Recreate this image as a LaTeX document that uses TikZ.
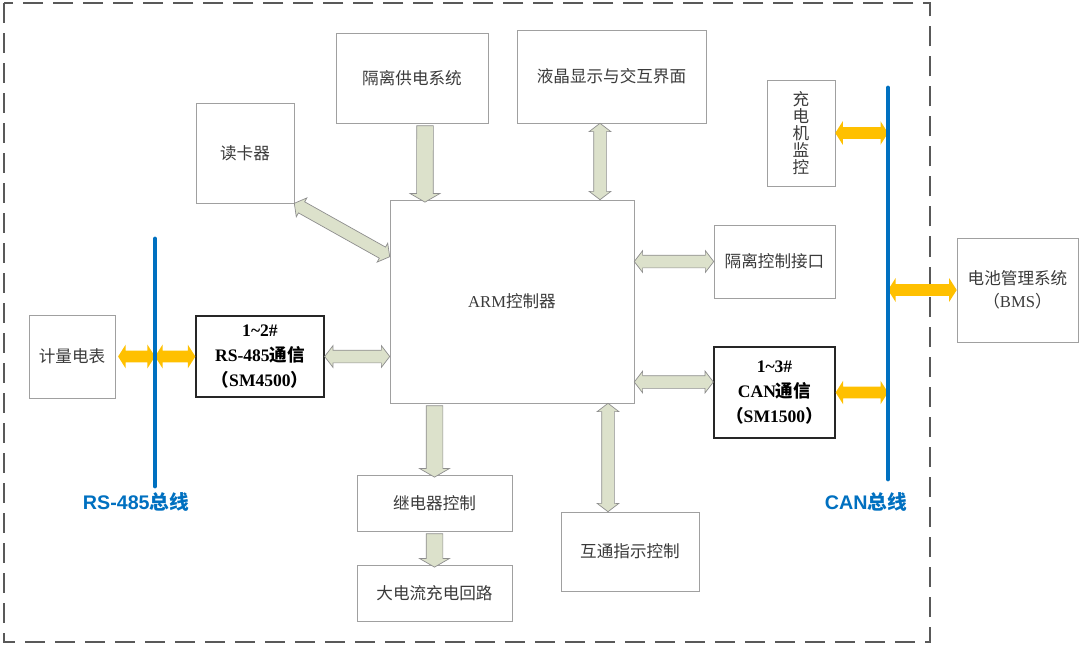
\documentclass[tikz,border=0pt]{standalone}
\usepackage{fontspec}
\setmainfont{Liberation Serif}
\newfontfamily\cjk{Noto Sans CJK SC}
\newfontfamily\lsans{Liberation Sans}
\usetikzlibrary{shapes.arrows,calc}

\definecolor{busblue}{HTML}{0070C0}
\definecolor{linkfill}{HTML}{DCE1CB}
\definecolor{linkline}{HTML}{8E8E8E}
\definecolor{sigorange}{HTML}{FFC000}
\definecolor{boxline}{HTML}{A0A0A0}
\definecolor{txtgray}{HTML}{3A3A3A}

% block arrow between two points: name, style, from, to
\newcommand{\blocklink}[4]{\path let \p1=(#3), \p2=(#4), \n1={veclen(\x2-\x1,\y2-\y1)} in (\p1) -- (\p2) node[midway, sloped, allow upside down, #2, minimum height=\n1] (#1) {};}

\begin{document}
\begin{tikzpicture}[x=0.025cm, y=-0.025cm, font=\fontsize{11.8}{17}\selectfont,
  box/.style={draw=boxline, text=txtgray, align=center, inner sep=0pt},
  cn/.style={font=\cjk\fontsize{11.8}{17}\selectfont},
  keybox/.style={draw=black!85, line width=0.9pt, align=center, inner sep=0pt, font=\fontsize{12.5}{18}\selectfont\bfseries},
  sz/.style 2 args={minimum width=#1*0.025cm, minimum height=#2*0.025cm},
  bus/.style={draw=busblue, line width=3.5pt, line cap=round},
  buslabel/.style={text=busblue, font=\lsans\bfseries\fontsize{14}{16}\selectfont},
  oneway/.style={single arrow, draw=linkline, fill=linkfill, line width=0.5pt, inner xsep=0pt, inner ysep=0.2cm, single arrow head extend=0.1625cm, single arrow tip angle=120},
  twoway/.style={double arrow, draw=linkline, fill=linkfill, line width=0.5pt, inner xsep=0pt, inner ysep=0.15cm, double arrow head extend=0.1125cm, double arrow tip angle=105},
  sig/.style={double arrow, fill=sigorange, draw=none, inner xsep=0pt, inner ysep=0.1375cm, double arrow head extend=0.15cm, double arrow tip angle=115}]

\useasboundingbox (0,0) rectangle (1080,645);
\draw[black!65, line width=0.9pt, dash pattern=on 0.5cm off 0.25cm] (4,3) rectangle (930,642);

% boxes
\node[box, cn, sz={86}{83}] (meter) at (72,356.5) {计量电表};
\node[keybox, sz={128}{81}] (rs485) at (260,356.5) {1\textasciitilde2\#\\RS-485{\cjk 通信}\\{\cjk （}SM4500{\cjk ）}};
\node[box, sz={244}{203}] (arm) at (512,301.5) {ARM{\cjk 控制器}};
\node[box, cn, sz={98}{100}] (reader) at (245,153) {读卡器};
\node[box, cn, sz={152}{90}] (power) at (412,78) {隔离供电系统};
\node[box, cn, sz={189}{93}] (lcd) at (611.5,76.5) {液晶显示与交互界面};
\node[box, sz={68}{106}, font=\cjk\fontsize{11.8}{12}\selectfont] (charger) at (801,133) {充\\电\\机\\监\\控};
\node[box, cn, sz={121}{73}] (isoif) at (774.5,261.5) {隔离控制接口};
\node[keybox, sz={121}{91}] (can) at (774.5,392.5) {1\textasciitilde3\#\\CAN{\cjk 通信}\\{\cjk （}SM1500{\cjk ）}};
\node[box, sz={121}{104}, font=\fontsize{11.8}{16.4}\selectfont] (bms) at (1017.5,290) {{\cjk 电池管理系统}\\{\cjk （}BMS{\cjk ）}};
\node[box, cn, sz={155}{56}] (relay) at (434.5,503) {继电器控制};
\node[box, cn, sz={155}{56}] (highcur) at (434.5,593) {大电流充电回路};
\node[box, cn, sz={138}{79}] (indic) at (630,551.5) {互通指示控制};

% bus ends
\coordinate (rstop) at (155,239);
\coordinate (rsbot) at (155,486);
\coordinate (cantop) at (888,88);
\coordinate (canbot) at (888,479);

% links to the controller
\blocklink{l1}{oneway}{[xshift=0.325cm]power.south}{[xshift=-2.175cm]arm.north}
\blocklink{l2}{twoway}{[xshift=-0.2875cm]lcd.south}{[xshift=2.2cm]arm.north}
\blocklink{l3}{twoway}{reader.south east}{[yshift=-1.425cm]arm.north west}
\blocklink{l4}{twoway}{arm.east |- isoif.west}{isoif.west}
\blocklink{l5}{twoway}{[yshift=-2.0125cm]arm.east}{[yshift=0.2625cm]can.west}
\blocklink{l6}{twoway}{rs485.east}{rs485.east -| arm.west}
\blocklink{l7}{oneway}{relay.north |- arm.south}{relay.north}
\blocklink{l8}{oneway}{relay.south}{highcur.north}
\blocklink{l9}{twoway}{[xshift=2.4cm]arm.south}{[xshift=-0.55cm]indic.north}

% links to the buses
\blocklink{s1}{sig}{[xshift=2pt]meter.east}{meter.east -| rstop}
\blocklink{s2}{sig}{rs485.west -| rstop}{rs485.west}
\blocklink{s3}{sig}{charger.east}{charger.east -| cantop}
\blocklink{s4}{sig}{bms.west -| cantop}{bms.west}
\blocklink{s5}{sig}{can.east}{can.east -| cantop}

\draw[bus] (rstop) -- (rsbot);
\draw[bus] (cantop) -- (canbot);
\node[buslabel] (rslabel) at (136,502) {RS-485{\cjk 总线}};
\node[buslabel] (canlabel) at (866,502) {CAN{\cjk 总线}};
\end{tikzpicture}
\end{document}
